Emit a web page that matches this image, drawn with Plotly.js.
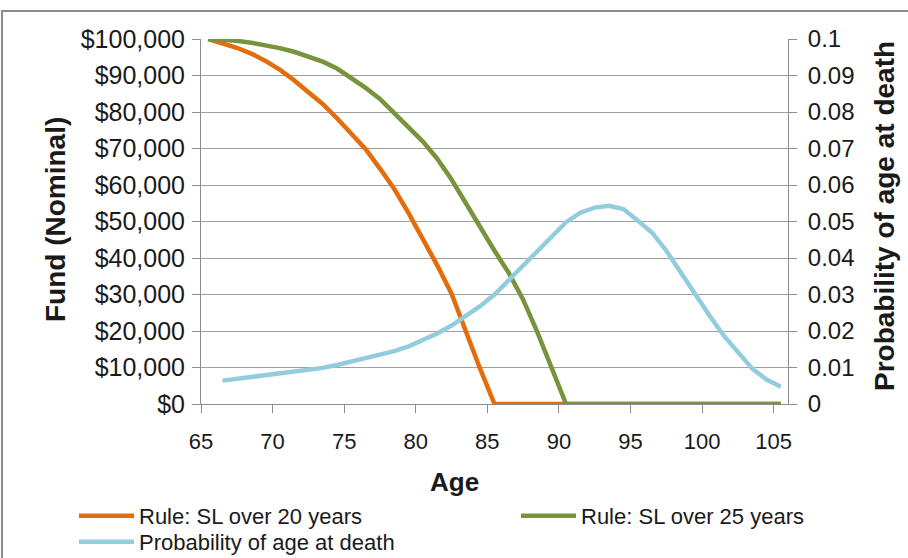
<!DOCTYPE html>
<html>
<head>
<meta charset="utf-8">
<script src="https://cdn.plot.ly/plotly-3.0.1.min.js"></script>
<style>
  html, body { margin: 0; padding: 0; background: #ffffff; }
  #wrap { position: relative; width: 908px; height: 558px; overflow: hidden; }
  #chart { width: 908px; height: 558px; }
  #frame { position: absolute; left: 1px; top: 10px; width: 1000px; height: 700px;
           border-top: 2px solid #8c8c8c; border-left: 2px solid #8c8c8c; pointer-events: none; }
</style>
</head>
<body>
<div id="wrap">
  <div id="chart"></div>
  <div id="frame"></div>
</div>
<script>
// ---- data ----
const fundAges = [65.5,66.5,67.5,68.5,69.5,70.5,71.5,72.5,73.5,74.5,75.5,76.5,77.5,78.5,79.5,80.5,
  81.5,82.5,83.5,84.5,85.5,86.5,87.5,88.5,89.5,90.5,91.5,92.5,93.5,94.5,95.5,96.5,97.5,98.5,99.5,
  100.5,101.5,102.5,103.5,104.5,105.5];
const fundSL20 = [100000,98900,97600,96000,94000,91600,88700,85400,82200,78300,74100,69800,64500,58900,
  52300,45300,38000,30200,19600,9600,0,0,0,0,0,0,0,0,0,0,0,0,0,0,0,0,0,0,0,0,0];
const fundSL25 = [100000,99800,99500,99000,98300,97500,96500,95300,93800,91900,89400,86600,83600,79700,
  75800,71900,67200,61500,55000,48200,42000,35900,28600,19600,9500,0,0,0,0,0,0,0,0,0,0,0,0,0,0,0,0];
const probAges = [66.5,67.5,68.5,69.5,70.5,71.5,72.5,73.5,74.5,75.5,76.5,77.5,78.5,79.5,80.5,81.5,
  82.5,83.5,84.5,85.5,86.5,87.5,88.5,89.5,90.5,91.5,92.5,93.5,94.5,95.5,96.5,97.5,98.5,99.5,100.5,
  101.5,102.5,103.5,104.5,105.5];
const probDeath = [0.0064,0.0069,0.0074,0.0078,0.0082,0.0088,0.0094,0.0099,0.0107,0.0116,0.0125,0.0133,
  0.0145,0.0158,0.0174,0.0193,0.0215,0.0240,0.0268,0.0300,0.0340,0.0378,0.0420,0.0462,0.0498,0.0524,
  0.0538,0.0543,0.0534,0.0503,0.0470,0.0420,0.0360,0.0298,0.0243,0.0188,0.0142,0.0097,0.0067,0.0047];
const seriesNames = ["Rule: SL over 20 years", "Rule: SL over 25 years", "Probability of age at death"];
const xTickVals = [65,70,75,80,85,90,95,100,105];
const y2TickVals = [0,0.01,0.02,0.03,0.04,0.05,0.06,0.07,0.08,0.09,0.1];
const y2TickText = ["0","0.01","0.02","0.03","0.04","0.05","0.06","0.07","0.08","0.09","0.1"];
const xTitle = "Age";
const yTitle = "Fund (Nominal)";
const y2Title = "Probability of age at death";

const FONT = "Liberation Sans, Arial, sans-serif";
const GRID = "#a0a0a0";
const AXIS = "#8c8c8c";
const TXT = "#1a1a1a";

const traces = [
  { x: fundAges, y: fundSL20, name: seriesNames[0], type: "scatter", mode: "lines",
    line: { color: "#e46c0a", width: 4.5 }, yaxis: "y", legend: "legend" },
  { x: fundAges, y: fundSL25, name: seriesNames[1], type: "scatter", mode: "lines",
    line: { color: "#77933c", width: 4.5 }, yaxis: "y", legend: "legend2" },
  { x: probAges, y: probDeath, name: seriesNames[2], type: "scatter", mode: "lines",
    line: { color: "#93cddd", width: 4.5 }, yaxis: "y2", legend: "legend3" }
];

const L = 201, R = 788, T = 39, B = 404;
const W = 908, H = 558;
function px2x(p) { return (p - L) / (R - L); }
function px2y(p) { return (B - p) / (B - T); }

const legendCommon = {
  orientation: "v", xanchor: "left", yanchor: "top", itemwidth: 55,
  bgcolor: "rgba(0,0,0,0)", font: { family: FONT, size: 22, color: TXT },
  traceorder: "normal", tracegroupgap: 0
};

const layout = {
  width: W, height: H,
  margin: { l: L, r: W - R, t: T, b: H - B, pad: 0, autoexpand: false },
  paper_bgcolor: "#ffffff", plot_bgcolor: "#ffffff",
  font: { family: FONT, size: 22, color: TXT },
  showlegend: true,
  xaxis: {
    range: [65, 106], tickvals: xTickVals, ticks: "outside", ticklen: 8, tickcolor: AXIS,
    showline: true, linecolor: AXIS, linewidth: 1, showgrid: false, zeroline: false,
    ticklabelstandoff: 10, tickfont: { size: 22 }
  },
  yaxis: {
    range: [0, 100000], dtick: 10000, tickformat: "$,.0f", ticks: "outside", ticklen: 8,
    tickcolor: AXIS, showline: true, linecolor: AXIS, linewidth: 1,
    showgrid: true, gridcolor: GRID, gridwidth: 1, zeroline: false, ticklabelstandoff: 2,
    tickfont: { size: 25 }
  },
  yaxis2: {
    overlaying: "y", side: "right", range: [0, 0.1], tickvals: y2TickVals, ticktext: y2TickText,
    ticks: "outside", ticklen: 8, tickcolor: AXIS, showline: true, linecolor: AXIS, linewidth: 1,
    showgrid: false, zeroline: false, ticklabelstandoff: 6, tickfont: { size: 24 }
  },
  legend: Object.assign({}, legendCommon, { x: px2x(74), y: px2y(495) }),
  legend2: Object.assign({}, legendCommon, { x: px2x(516), y: px2y(495) }),
  legend3: Object.assign({}, legendCommon, { x: px2x(74), y: px2y(521) }),
  annotations: [
    { text: xTitle, xref: "paper", yref: "paper", x: px2x(454), y: px2y(482),
      xanchor: "center", yanchor: "middle", showarrow: false,
      font: { family: FONT, size: 26, color: TXT, weight: "bold" } },
    { text: yTitle, xref: "paper", yref: "paper", x: px2x(55), y: px2y(220), textangle: -90,
      xanchor: "center", yanchor: "middle", showarrow: false,
      font: { family: FONT, size: 28, color: TXT, weight: "bold" } },
    { text: y2Title, xref: "paper", yref: "paper", x: px2x(884), y: px2y(216), textangle: -90,
      xanchor: "center", yanchor: "middle", showarrow: false,
      font: { family: FONT, size: 28, color: TXT, weight: "bold" } }
  ]
};

Plotly.newPlot("chart", traces, layout, { displayModeBar: false, staticPlot: true });
</script>
</body>
</html>
